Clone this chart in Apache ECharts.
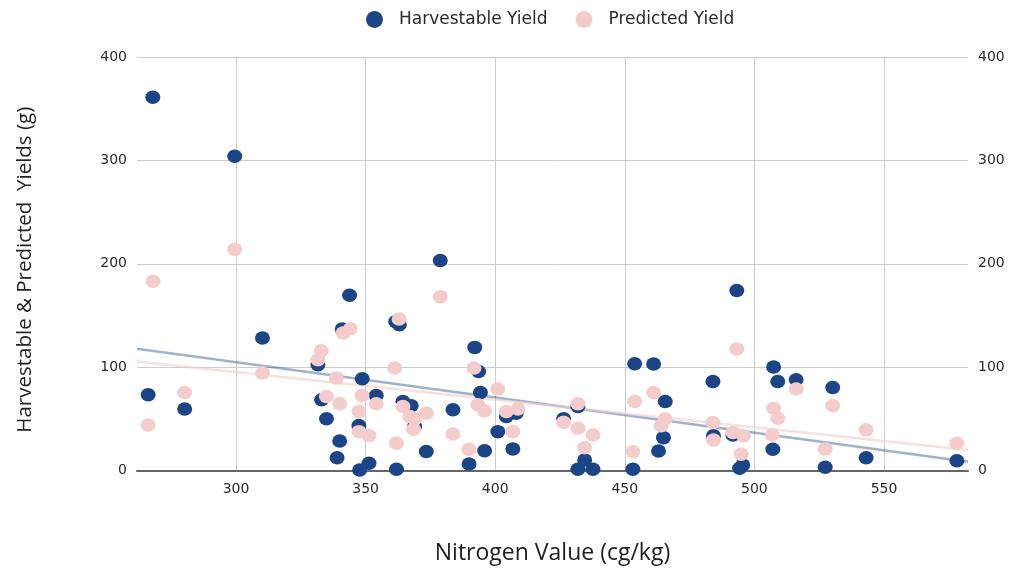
<!DOCTYPE html>
<html>
<head>
<meta charset="utf-8">
<script src="https://cdn.jsdelivr.net/npm/echarts@6/dist/echarts.min.js"></script>
<style>
  html, body { margin: 0; padding: 0; background: #fff; }
  #chart { width: 1017px; height: 569px; }
</style>
</head>
<body>
<div id="chart"></div>
<script>
// Harvestable Yield: nitrogen (cg/kg) and yield (g)
const harvestNitrogen = [267.9, 299.5, 266.1, 280.2, 310.2, 343.8, 331.6, 341, 361.6, 363, 348.7, 333, 334.9, 354.1, 364.4, 367.6, 340, 339, 347.4, 347.7, 351.3, 361.9, 373.4, 368.9,
  378.8, 392.1, 393.6, 394.3, 383.7, 404.3, 408.1, 401, 395.9, 406.8, 389.9,
  426.4, 431.9, 434.5, 431.9, 437.7, 453.8, 461.1, 465.6, 464.9, 463, 453.1, 484, 484.2,
  493.2, 491.7, 495.5, 494.3, 507.4, 509, 516.1, 507.1, 530.2, 527.3, 543.1, 578.1];
const harvestYield = [361, 304, 73.2, 59.4, 128.2, 169.5, 102.3, 137, 144, 141, 88.7, 68.4, 50, 72.6, 66.8, 62.6, 28.6, 12.4, 43.5, 0.5, 7, 1.2, 18.3, 42.5,
  203.2, 119.1, 95.8, 75.5, 58.7, 52.2, 55.5, 37.6, 19.2, 20.9, 6.3,
  50, 61.9, 10.2, 1.2, 1.2, 103.3, 103, 66.7, 31.8, 18.9, 1.2, 86.1, 33.5,
  174.1, 34.4, 5.3, 2.1, 100.1, 86.1, 87.8, 20.6, 80.3, 3.1, 12.4, 9.5];

// Predicted Yield: nitrogen (cg/kg) and yield (g)
const predNitrogen = [268, 299.5, 280.2, 266.1, 310.2, 332.9, 331.6, 344.1, 341.3, 362.9, 361.2, 338.7, 334.9, 340, 348.6, 354.1, 347.4, 347.4, 351.3, 361.9, 364.4, 367, 368.5, 368.9, 373.4,
  378.8, 391.8, 401, 393.3, 395.9, 404.3, 408.8, 406.8, 383.7, 389.9,
  426.4, 431.9, 431.9, 437.7, 434.5, 453.8, 461.1, 465.6, 464, 453.1, 484, 484.2,
  493.2, 491.7, 495.8, 494.9, 516.1, 507.4, 509, 506.9, 530.2, 527.3, 543.1, 578.1];
const predYield = [183.1, 214, 75.5, 44.1, 94.3, 115.9, 107.2, 137.2, 133.1, 146.6, 99.1, 89.4, 71.6, 64.5, 72.6, 64.5, 57, 37.6, 33.8, 26.4, 61.9, 52.2, 40, 49.7, 55.5,
  168, 99.1, 78.8, 63.5, 57.7, 57, 59.4, 37.6, 35.4, 20.6,
  46.7, 64.5, 40.9, 34.4, 22.1, 66.7, 75.5, 49.7, 43.2, 18.2, 46.4, 29.6,
  117.6, 36.7, 33.5, 15.7, 78.8, 60.3, 50.6, 34.4, 62.9, 20.9, 39.3, 26.4];

// Trendline endpoints
const harvestTrendX = [261.8, 582.4];
const harvestTrendY = [117.8, 8.5];
const predTrendX = [261.8, 582.4];
const predTrendY = [105.5, 19.9];

const yTicks = [0, 100, 200, 300, 400];

const zip = (a, b) => a.map((v, i) => [v, b[i]]);

const chart = echarts.init(document.getElementById('chart'), null, { renderer: 'canvas' });
const labelStyle = { color: '#2a2a2a', fontSize: 14, fontFamily: "'DejaVu Sans', sans-serif" };

chart.setOption({
  backgroundColor: '#ffffff',
  animation: false,
  legend: {
    top: 6,
    left: 361,
    itemGap: 28,
    itemWidth: 19,
    itemHeight: 17,
    data: [
      { name: 'Harvestable Yield', icon: 'circle' },
      { name: 'Predicted Yield', icon: 'circle' }
    ],
    textStyle: { color: '#2a2a2a', fontSize: 17, padding: [0, 0, 0, 10], fontFamily: "'DejaVu Sans', sans-serif" }
  },
  grid: { left: 137, right: 49, top: 57, bottom: 98.5, containLabel: false, outerBoundsMode: 'none' },
  xAxis: {
    type: 'value',
    min: 261.8,
    max: 582.4,
    splitNumber: 6,
    name: 'Nitrogen Value (cg/kg)',
    nameLocation: 'middle',
    nameGap: 71,
    nameTextStyle: { color: '#222', fontSize: 23, fontFamily: "'Open Sans', sans-serif" },
    axisLine: { show: true, lineStyle: { color: '#666', width: 2 } },
    axisTick: { show: false },
    axisLabel: { ...labelStyle, margin: 12, showMinLabel: false, showMaxLabel: false },
    splitLine: { show: true, showMinLine: false, showMaxLine: false, lineStyle: { color: '#cccccc', width: 1 } }
  },
  yAxis: [
    {
      type: 'value',
      min: yTicks[0],
      max: yTicks[yTicks.length - 1],
      interval: 100,
      name: 'Harvestable & Predicted  Yields (g)',
      nameLocation: 'middle',
      nameGap: 101,
      nameTextStyle: { color: '#222', fontSize: 20.5, padding: [0, 12, 0, 0], fontFamily: "'Open Sans', sans-serif" },
      axisLine: { show: false },
      axisTick: { show: false },
      axisLabel: { ...labelStyle, margin: 10 },
      splitLine: { show: true, lineStyle: { color: '#cccccc', width: 1 } }
    },
    {
      type: 'value',
      position: 'right',
      min: yTicks[0],
      max: yTicks[yTicks.length - 1],
      interval: 100,
      axisLine: { show: false },
      axisTick: { show: false },
      axisLabel: { ...labelStyle, margin: 10 },
      splitLine: { show: false }
    }
  ],
  series: [
    {
      name: 'Harvestable Trend',
      type: 'line',
      data: zip(harvestTrendX, harvestTrendY),
      showSymbol: false,
      symbol: 'none',
      silent: true,
      lineStyle: { color: 'rgba(28,69,135,0.42)', width: 2.5 },
      z: 1
    },
    {
      name: 'Predicted Trend',
      type: 'line',
      data: zip(predTrendX, predTrendY),
      showSymbol: false,
      symbol: 'none',
      silent: true,
      lineStyle: { color: 'rgba(244,204,204,0.6)', width: 2.5 },
      z: 1
    },
    {
      name: 'Harvestable Yield',
      type: 'scatter',
      data: zip(harvestNitrogen, harvestYield),
      symbolSize: [15, 13.5],
      itemStyle: { color: '#1c4587', opacity: 1 },
      z: 2
    },
    {
      name: 'Predicted Yield',
      type: 'scatter',
      data: zip(predNitrogen, predYield),
      symbolSize: [15, 13.5],
      itemStyle: { color: '#f4cccc', opacity: 1 },
      z: 3
    }
  ]
});
</script>
</body>
</html>
